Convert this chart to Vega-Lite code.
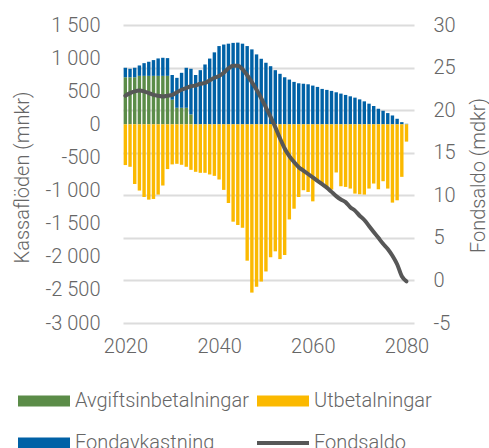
{
  "$schema": "https://vega.github.io/schema/vega-lite/v6.json",
  "width": 291,
  "height": 298,
  "autosize": "none",
  "padding": {"left": 123, "top": 25, "right": 75, "bottom": 125},
  "background": "white",
  "config": {
    "view": {"stroke": null},
    "font": "Roboto",
    "locale": {"number": {"decimal": ",", "thousands": " ", "grouping": [3], "currency": ["", ""], "minus": "-"}},
    "axis": {
      "labelFont": "Roboto", "labelFontWeight": 300, "labelFontSize": 20, "labelColor": "#666666",
      "titleFont": "Roboto", "titleFontWeight": 300, "titleFontSize": 20, "titleColor": "#666666",
      "domain": false, "ticks": false, "tickSize": 0
    },
    "legend": {
      "labelFont": "Roboto", "labelFontWeight": 300, "labelFontSize": 20, "labelColor": "#666666", "labelLimit": 0
    }
  },
  "datasets": {
    "flows": [
      {"year": 2020, "serie": "Avgiftsinbetalningar", "value": 711},
      {"year": 2021, "serie": "Avgiftsinbetalningar", "value": 711},
      {"year": 2022, "serie": "Avgiftsinbetalningar", "value": 711},
      {"year": 2023, "serie": "Avgiftsinbetalningar", "value": 732},
      {"year": 2024, "serie": "Avgiftsinbetalningar", "value": 732},
      {"year": 2025, "serie": "Avgiftsinbetalningar", "value": 732},
      {"year": 2026, "serie": "Avgiftsinbetalningar", "value": 732},
      {"year": 2027, "serie": "Avgiftsinbetalningar", "value": 732},
      {"year": 2028, "serie": "Avgiftsinbetalningar", "value": 732},
      {"year": 2029, "serie": "Avgiftsinbetalningar", "value": 732},
      {"year": 2030, "serie": "Avgiftsinbetalningar", "value": 372},
      {"year": 2031, "serie": "Avgiftsinbetalningar", "value": 250},
      {"year": 2032, "serie": "Avgiftsinbetalningar", "value": 250},
      {"year": 2033, "serie": "Avgiftsinbetalningar", "value": 250},
      {"year": 2034, "serie": "Avgiftsinbetalningar", "value": 150},
      {"year": 2020, "serie": "Fondavkastning", "value": 143},
      {"year": 2021, "serie": "Fondavkastning", "value": 128},
      {"year": 2022, "serie": "Fondavkastning", "value": 143},
      {"year": 2023, "serie": "Fondavkastning", "value": 157},
      {"year": 2024, "serie": "Fondavkastning", "value": 192},
      {"year": 2025, "serie": "Fondavkastning", "value": 213},
      {"year": 2026, "serie": "Fondavkastning", "value": 238},
      {"year": 2027, "serie": "Fondavkastning", "value": 263},
      {"year": 2028, "serie": "Fondavkastning", "value": 273},
      {"year": 2029, "serie": "Fondavkastning", "value": 268},
      {"year": 2030, "serie": "Fondavkastning", "value": 373},
      {"year": 2031, "serie": "Fondavkastning", "value": 452},
      {"year": 2032, "serie": "Fondavkastning", "value": 528},
      {"year": 2033, "serie": "Fondavkastning", "value": 604},
      {"year": 2034, "serie": "Fondavkastning", "value": 689},
      {"year": 2035, "serie": "Fondavkastning", "value": 745},
      {"year": 2036, "serie": "Fondavkastning", "value": 818},
      {"year": 2037, "serie": "Fondavkastning", "value": 904},
      {"year": 2038, "serie": "Fondavkastning", "value": 993},
      {"year": 2039, "serie": "Fondavkastning", "value": 1087},
      {"year": 2040, "serie": "Fondavkastning", "value": 1182},
      {"year": 2041, "serie": "Fondavkastning", "value": 1205},
      {"year": 2042, "serie": "Fondavkastning", "value": 1218},
      {"year": 2043, "serie": "Fondavkastning", "value": 1230},
      {"year": 2044, "serie": "Fondavkastning", "value": 1234},
      {"year": 2045, "serie": "Fondavkastning", "value": 1218},
      {"year": 2046, "serie": "Fondavkastning", "value": 1182},
      {"year": 2047, "serie": "Fondavkastning", "value": 1132},
      {"year": 2048, "serie": "Fondavkastning", "value": 1056},
      {"year": 2049, "serie": "Fondavkastning", "value": 990},
      {"year": 2050, "serie": "Fondavkastning", "value": 930},
      {"year": 2051, "serie": "Fondavkastning", "value": 878},
      {"year": 2052, "serie": "Fondavkastning", "value": 818},
      {"year": 2053, "serie": "Fondavkastning", "value": 763},
      {"year": 2054, "serie": "Fondavkastning", "value": 711},
      {"year": 2055, "serie": "Fondavkastning", "value": 676},
      {"year": 2056, "serie": "Fondavkastning", "value": 641},
      {"year": 2057, "serie": "Fondavkastning", "value": 620},
      {"year": 2058, "serie": "Fondavkastning", "value": 613},
      {"year": 2059, "serie": "Fondavkastning", "value": 605},
      {"year": 2060, "serie": "Fondavkastning", "value": 585},
      {"year": 2061, "serie": "Fondavkastning", "value": 565},
      {"year": 2062, "serie": "Fondavkastning", "value": 535},
      {"year": 2063, "serie": "Fondavkastning", "value": 520},
      {"year": 2064, "serie": "Fondavkastning", "value": 505},
      {"year": 2065, "serie": "Fondavkastning", "value": 484},
      {"year": 2066, "serie": "Fondavkastning", "value": 464},
      {"year": 2067, "serie": "Fondavkastning", "value": 444},
      {"year": 2068, "serie": "Fondavkastning", "value": 423},
      {"year": 2069, "serie": "Fondavkastning", "value": 403},
      {"year": 2070, "serie": "Fondavkastning", "value": 377},
      {"year": 2071, "serie": "Fondavkastning", "value": 347},
      {"year": 2072, "serie": "Fondavkastning", "value": 312},
      {"year": 2073, "serie": "Fondavkastning", "value": 277},
      {"year": 2074, "serie": "Fondavkastning", "value": 236},
      {"year": 2075, "serie": "Fondavkastning", "value": 205},
      {"year": 2076, "serie": "Fondavkastning", "value": 170},
      {"year": 2077, "serie": "Fondavkastning", "value": 134},
      {"year": 2078, "serie": "Fondavkastning", "value": 84},
      {"year": 2079, "serie": "Fondavkastning", "value": 33},
      {"year": 2080, "serie": "Fondavkastning", "value": 8},
      {"year": 2020, "serie": "Utbetalningar", "value": -615},
      {"year": 2021, "serie": "Utbetalningar", "value": -641},
      {"year": 2022, "serie": "Utbetalningar", "value": -900},
      {"year": 2023, "serie": "Utbetalningar", "value": -1000},
      {"year": 2024, "serie": "Utbetalningar", "value": -1097},
      {"year": 2025, "serie": "Utbetalningar", "value": -1137},
      {"year": 2026, "serie": "Utbetalningar", "value": -1127},
      {"year": 2027, "serie": "Utbetalningar", "value": -1061},
      {"year": 2028, "serie": "Utbetalningar", "value": -924},
      {"year": 2029, "serie": "Utbetalningar", "value": -676},
      {"year": 2030, "serie": "Utbetalningar", "value": -605},
      {"year": 2031, "serie": "Utbetalningar", "value": -596},
      {"year": 2032, "serie": "Utbetalningar", "value": -611},
      {"year": 2033, "serie": "Utbetalningar", "value": -641},
      {"year": 2034, "serie": "Utbetalningar", "value": -687},
      {"year": 2035, "serie": "Utbetalningar", "value": -717},
      {"year": 2036, "serie": "Utbetalningar", "value": -732},
      {"year": 2037, "serie": "Utbetalningar", "value": -732},
      {"year": 2038, "serie": "Utbetalningar", "value": -757},
      {"year": 2039, "serie": "Utbetalningar", "value": -778},
      {"year": 2040, "serie": "Utbetalningar", "value": -833},
      {"year": 2041, "serie": "Utbetalningar", "value": -990},
      {"year": 2042, "serie": "Utbetalningar", "value": -1188},
      {"year": 2043, "serie": "Utbetalningar", "value": -1470},
      {"year": 2044, "serie": "Utbetalningar", "value": -1520},
      {"year": 2045, "serie": "Utbetalningar", "value": -1562},
      {"year": 2046, "serie": "Utbetalningar", "value": -2059},
      {"year": 2047, "serie": "Utbetalningar", "value": -2541},
      {"year": 2048, "serie": "Utbetalningar", "value": -2454},
      {"year": 2049, "serie": "Utbetalningar", "value": -2374},
      {"year": 2050, "serie": "Utbetalningar", "value": -2222},
      {"year": 2051, "serie": "Utbetalningar", "value": -2009},
      {"year": 2052, "serie": "Utbetalningar", "value": -1918},
      {"year": 2053, "serie": "Utbetalningar", "value": -2035},
      {"year": 2054, "serie": "Utbetalningar", "value": -1973},
      {"year": 2055, "serie": "Utbetalningar", "value": -1436},
      {"year": 2056, "serie": "Utbetalningar", "value": -1274},
      {"year": 2057, "serie": "Utbetalningar", "value": -1097},
      {"year": 2058, "serie": "Utbetalningar", "value": -995},
      {"year": 2059, "serie": "Utbetalningar", "value": -1021},
      {"year": 2060, "serie": "Utbetalningar", "value": -1163},
      {"year": 2061, "serie": "Utbetalningar", "value": -859},
      {"year": 2062, "serie": "Utbetalningar", "value": -884},
      {"year": 2063, "serie": "Utbetalningar", "value": -945},
      {"year": 2064, "serie": "Utbetalningar", "value": -985},
      {"year": 2065, "serie": "Utbetalningar", "value": -727},
      {"year": 2066, "serie": "Utbetalningar", "value": -935},
      {"year": 2067, "serie": "Utbetalningar", "value": -945},
      {"year": 2068, "serie": "Utbetalningar", "value": -970},
      {"year": 2069, "serie": "Utbetalningar", "value": -1046},
      {"year": 2070, "serie": "Utbetalningar", "value": -1056},
      {"year": 2071, "serie": "Utbetalningar", "value": -1061},
      {"year": 2072, "serie": "Utbetalningar", "value": -970},
      {"year": 2073, "serie": "Utbetalningar", "value": -894},
      {"year": 2074, "serie": "Utbetalningar", "value": -980},
      {"year": 2075, "serie": "Utbetalningar", "value": -859},
      {"year": 2076, "serie": "Utbetalningar", "value": -970},
      {"year": 2077, "serie": "Utbetalningar", "value": -1182},
      {"year": 2078, "serie": "Utbetalningar", "value": -1147},
      {"year": 2079, "serie": "Utbetalningar", "value": -793},
      {"year": 2080, "serie": "Utbetalningar", "value": -261}
    ],
    "saldo": [
      {"year": 2020, "saldo": 21.7}, {"year": 2021, "saldo": 22.0}, {"year": 2022, "saldo": 22.2},
      {"year": 2023, "saldo": 22.3}, {"year": 2024, "saldo": 22.2}, {"year": 2025, "saldo": 22.0},
      {"year": 2026, "saldo": 21.8}, {"year": 2027, "saldo": 21.7}, {"year": 2028, "saldo": 21.6},
      {"year": 2029, "saldo": 21.7}, {"year": 2030, "saldo": 21.8}, {"year": 2031, "saldo": 22.1},
      {"year": 2032, "saldo": 22.4}, {"year": 2033, "saldo": 22.6}, {"year": 2034, "saldo": 22.8},
      {"year": 2035, "saldo": 22.9}, {"year": 2036, "saldo": 23.1}, {"year": 2037, "saldo": 23.2},
      {"year": 2038, "saldo": 23.5}, {"year": 2039, "saldo": 23.8}, {"year": 2040, "saldo": 24.0},
      {"year": 2041, "saldo": 24.4}, {"year": 2042, "saldo": 24.9}, {"year": 2043, "saldo": 25.2},
      {"year": 2044, "saldo": 25.2}, {"year": 2045, "saldo": 24.8}, {"year": 2046, "saldo": 24.1},
      {"year": 2047, "saldo": 23.3}, {"year": 2048, "saldo": 22.4}, {"year": 2049, "saldo": 21.4},
      {"year": 2050, "saldo": 20.3}, {"year": 2051, "saldo": 19.2}, {"year": 2052, "saldo": 18.0},
      {"year": 2053, "saldo": 16.7}, {"year": 2054, "saldo": 15.5}, {"year": 2055, "saldo": 14.6},
      {"year": 2056, "saldo": 13.9}, {"year": 2057, "saldo": 13.3}, {"year": 2058, "saldo": 12.9},
      {"year": 2059, "saldo": 12.5}, {"year": 2060, "saldo": 12.1}, {"year": 2061, "saldo": 11.7},
      {"year": 2062, "saldo": 11.3}, {"year": 2063, "saldo": 10.9}, {"year": 2064, "saldo": 10.4},
      {"year": 2065, "saldo": 9.9}, {"year": 2066, "saldo": 9.5}, {"year": 2067, "saldo": 9.2},
      {"year": 2068, "saldo": 8.6}, {"year": 2069, "saldo": 8.2}, {"year": 2070, "saldo": 7.6},
      {"year": 2071, "saldo": 7.1}, {"year": 2072, "saldo": 6.4}, {"year": 2073, "saldo": 5.7},
      {"year": 2074, "saldo": 5.0}, {"year": 2075, "saldo": 4.3}, {"year": 2076, "saldo": 3.7},
      {"year": 2077, "saldo": 2.9}, {"year": 2078, "saldo": 1.9}, {"year": 2079, "saldo": 0.5},
      {"year": 2080, "saldo": -0.1}
    ]
  },
  "layer": [
    {
      "data": {"name": "flows"},
      "mark": {"type": "bar", "size": 3.4},
      "encoding": {
        "x": {
          "field": "year", "type": "quantitative",
          "scale": {"domain": [2019.5, 2081.6], "nice": false, "zero": false, "padding": 0},
          "axis": {"values": [2020, 2040, 2060, 2080], "format": "d", "labelPadding": 13, "grid": false, "title": null}
        },
        "y": {
          "field": "value", "type": "quantitative", "stack": "zero",
          "scale": {"domain": [-3000, 1500], "nice": false},
          "axis": {
            "values": [-3000, -2500, -2000, -1500, -1000, -500, 0, 500, 1000, 1500],
            "format": ",d", "grid": false, "labelPadding": 23,
            "title": "Kassaflöden (mnkr)", "titleX": -101, "titleY": 152, "titleAngle": -90,
            "titleBaseline": "middle", "titleAlign": "center"
          }
        },
        "color": {
          "field": "serie", "type": "nominal",
          "scale": {
            "domain": ["Avgiftsinbetalningar", "Utbetalningar", "Fondavkastning", "Fondsaldo"],
            "range": ["#5b8c48", "#fbb900", "#0061a6", "#575757"]
          },
          "legend": {
            "title": null, "orient": "none", "legendX": -89, "legendY": 366,
            "direction": "horizontal", "columns": 2, "columnPadding": 8, "rowPadding": 22, "padding": 0,
            "symbolSize": 400, "symbolStrokeWidth": 0, "labelOffset": 21,
            "encode": {
              "symbols": {
                "update": {
                  "shape": {"signal": "datum.value === 'Fondsaldo' ? 'M-2.6,-0.2H2.6V0.2H-2.6Z' : 'M-2.6,-0.55H2.6V0.55H-2.6Z'"}
                }
              }
            }
          }
        },
        "order": {"field": "serie", "sort": "ascending"}
      }
    },
    {
      "data": {"name": "saldo"},
      "mark": {"type": "line", "strokeWidth": 4, "color": "#575757", "interpolate": "monotone", "strokeCap": "round"},
      "encoding": {
        "x": {"field": "year", "type": "quantitative"},
        "y": {
          "field": "saldo", "type": "quantitative",
          "scale": {"domain": [-5, 30], "nice": false},
          "axis": {
            "orient": "right", "values": [-5, 0, 5, 10, 15, 20, 25, 30],
            "grid": true, "gridColor": "#dcdcdc", "gridWidth": 2, "labelPadding": 19,
            "title": "Fondsaldo (mdkr)", "titleAngle": -90, "titleX": 64, "titleY": 150,
            "titleBaseline": "middle", "titleAlign": "center"
          }
        }
      }
    }
  ],
  "resolve": {"scale": {"y": "independent"}}
}
